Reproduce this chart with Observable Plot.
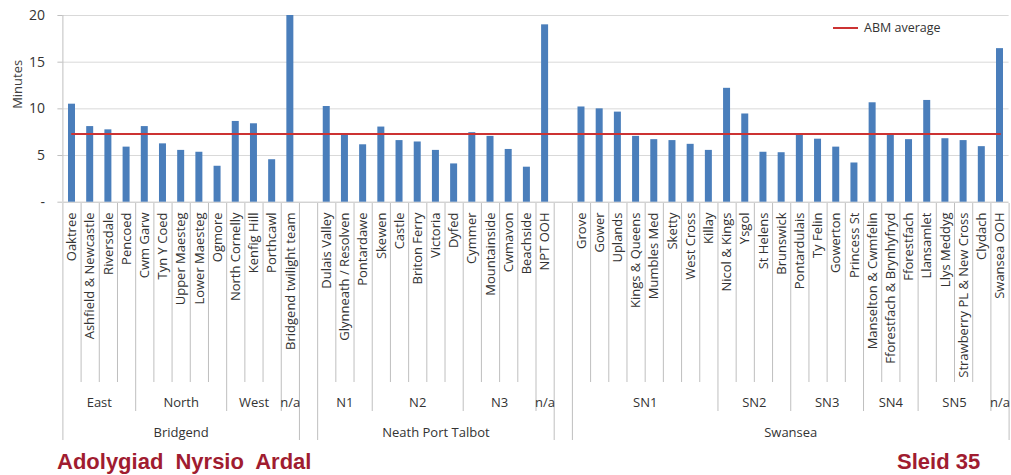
<!DOCTYPE html>
<html>
<head>
<meta charset="utf-8">
<script src="https://cdn.jsdelivr.net/npm/d3@7"></script>
<script src="https://cdn.jsdelivr.net/npm/@observablehq/plot@0.6"></script>
<style>
  body { margin: 0; background: #fff; }
  #wrap { position: relative; width: 1011px; height: 475px; overflow: hidden; font-family: "Open Sans", sans-serif; }
  #wrap svg { display: block; }
  #legend { position: absolute; left: 833px; top: 19px; font-size: 12.5px; color: #333; display: flex; align-items: center; }
  #legend .swatch { display: inline-block; width: 25px; height: 2px; background: #cc3333; margin-right: 6px; }
  .footer { position: absolute; top: 448px; font-family: "Liberation Sans", Arial, sans-serif; font-weight: bold; font-size: 22px; color: #a01c30; line-height: 27px; }
  #footLeft { left: 57px; word-spacing: 6px; }
  #footRight { left: 897px; }
</style>
</head>
<body>
<div id="wrap">
  <div id="legend"><span class="swatch"></span>ABM average</div>
  <div class="footer" id="footLeft">Adolygiad Nyrsio Ardal</div>
  <div class="footer" id="footRight">Sleid 35</div>
</div>
<script>
// Surgery / team names ("" marks the spacer slots between boroughs)
const sites = [
  "Oaktree", "Ashfield & Newcastle", "Riversdale", "Pencoed",
  "Cwm Garw", "Tyn Y Coed", "Upper Maesteg", "Lower Maesteg", "Ogmore",
  "North Cornelly", "Kenfig Hill", "Porthcawl",
  "Bridgend twilight team",
  "",
  "Dulais Valley", "Glynneath / Resolven", "Pontardawe",
  "Skewen", "Castle", "Briton Ferry", "Victoria", "Dyfed",
  "Cymmer", "Mountainside", "Cwmavon", "Beachside",
  "NPT OOH",
  "",
  "Grove", "Gower", "Uplands", "Kings & Queens", "Mumbles Med", "Sketty", "West Cross", "Killay",
  "Nicol & Kings", "Ysgol", "St Helens", "Brunswick",
  "Pontardulais", "Ty Felin", "Gowerton", "Princess St",
  "Manselton & Cwmfelin", "Fforestfach & Brynhyfryd", "Fforestfach",
  "Llansamlet", "Llys Meddyg", "Strawberry PL & New Cross", "Clydach",
  "Swansea OOH"
];

// Average minutes per site
const minutes = [
  10.5, 8.1, 7.75, 5.9,
  8.1, 6.25, 5.55, 5.35, 3.85,
  8.65, 8.4, 4.55,
  20.0,
  null,
  10.25, 7.25, 6.15,
  8.05, 6.6, 6.45, 5.55, 4.1,
  7.45, 7.05, 5.65, 3.75,
  19.0,
  null,
  10.2, 10.0, 9.65, 7.05, 6.7, 6.6, 6.2, 5.55,
  12.2, 9.45, 5.35, 5.3,
  7.3, 6.75, 5.9, 4.2,
  10.65, 7.25, 6.7,
  10.9, 6.8, 6.6, 5.95,
  16.45
];

// Locality (second category level)
const localities = [
  "East", "East", "East", "East",
  "North", "North", "North", "North", "North",
  "West", "West", "West",
  "n/a",
  "",
  "N1", "N1", "N1",
  "N2", "N2", "N2", "N2", "N2",
  "N3", "N3", "N3", "N3",
  "n/a",
  "",
  "SN1", "SN1", "SN1", "SN1", "SN1", "SN1", "SN1", "SN1",
  "SN2", "SN2", "SN2", "SN2",
  "SN3", "SN3", "SN3", "SN3",
  "SN4", "SN4", "SN4",
  "SN5", "SN5", "SN5", "SN5",
  "n/a"
];

// Borough (top category level)
const boroughs = [
  ...Array(13).fill("Bridgend"),
  "",
  ...Array(13).fill("Neath Port Talbot"),
  "",
  ...Array(24).fill("Swansea")
];

const abmAverage = 7.3;
const yTicks = [0, 5, 10, 15, 20];

const N = sites.length;
const slots = sites.map((name, i) => ({
  i, name, minutes: minutes[i], locality: localities[i], borough: boroughs[i]
}));

// Consecutive runs of equal keys, for the grouped category labels
function runs(keyOf, labelOf) {
  const out = [];
  let start = 0;
  for (let i = 1; i <= N; i++) {
    if (i === N || keyOf(i) !== keyOf(start)) {
      const label = labelOf(start);
      if (label) out.push({start, end: i, label});
      start = i;
    }
  }
  return out;
}
const localityRuns = runs(i => boroughs[i] + "|" + localities[i], i => localities[i]);
const boroughRuns = runs(i => boroughs[i], i => boroughs[i]);

// Divider lines between slots: 0 = site, 1 = locality, 2 = borough
const dividers = d3.range(N + 1).map(b => ({
  pos: b,
  level: (b === 0 || b === N || boroughs[b - 1] !== boroughs[b]) ? 2
       : (localities[b - 1] !== localities[b]) ? 1 : 0
}));

const frameLeft = 62.4, frameRight = 2.4;
const textColor = "#404040", lineColor = "#bfbfbf";

const chart = Plot.plot({
  width: 1011,
  height: 203,
  marginLeft: frameLeft,
  marginRight: frameRight,
  marginTop: 15,
  marginBottom: 1.3,
  style: {fontFamily: "Open Sans", fontSize: "14px", background: "transparent", overflow: "visible"},
  x: {domain: [0, N], axis: null},
  y: {domain: [0, 20]},
  marks: [
    Plot.gridY(yTicks.filter(d => d > 0), {stroke: "#d9d9d9", strokeOpacity: 1}),
    Plot.axisY(yTicks, {
      tickFormat: d => d === 0 ? "-" : String(d),
      tickSize: 5, tickPadding: 13, stroke: lineColor, color: "#333", label: null
    }),
    Plot.ruleX([0], {stroke: lineColor}),
    Plot.ruleY([0], {stroke: lineColor}),
    Plot.rectY(slots.filter(d => d.minutes != null), {
      x1: "i", x2: d => d.i + 1, y: "minutes",
      insetLeft: 5.6, insetRight: 5.6, fill: "#4a7ebb"
    }),
    Plot.lineY(slots, {x: d => d.i + 0.5, y: () => abmAverage, stroke: "#cc3333", strokeWidth: 2}),
    Plot.text(["Minutes"], {frameAnchor: "left", rotate: -90, dx: -45, fill: textColor, fontSize: 13})
  ]
});

// Multi-level category axis under the bars (y measured in pixel rows)
const axisHeight = 245;
const depth = [179, 208, 237];
const categoryAxis = Plot.plot({
  width: 1011,
  height: axisHeight,
  marginLeft: frameLeft,
  marginRight: frameRight,
  marginTop: 0,
  marginBottom: 0,
  style: {fontFamily: "Open Sans", fontSize: "13px", background: "transparent", overflow: "visible"},
  x: {domain: [0, N], axis: null},
  y: {domain: [0, axisHeight], range: [0, axisHeight], axis: null},
  marks: [
    Plot.ruleX(dividers, {x: "pos", y1: 0, y2: d => depth[d.level], stroke: lineColor}),
    Plot.text(slots.filter(d => d.name), {
      x: d => d.i + 0.5, y: 9, text: "name", rotate: -90, textAnchor: "end", fill: "#333"
    }),
    Plot.text(localityRuns, {x: d => (d.start + d.end) / 2, y: 199, text: "label", fill: "#333"}),
    Plot.text(boroughRuns, {x: d => (d.start + d.end) / 2, y: 229, text: "label", fill: "#333"})
  ]
});

const wrap = document.getElementById("wrap");
wrap.prepend(categoryAxis);
wrap.prepend(chart);
</script>
</body>
</html>
